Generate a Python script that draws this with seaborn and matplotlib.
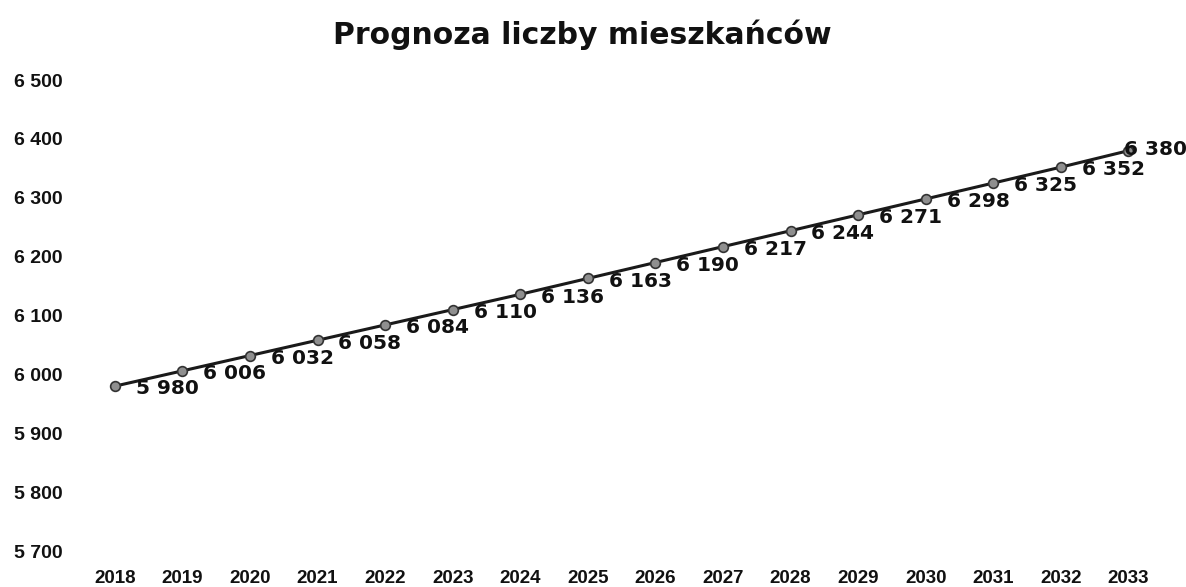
import matplotlib
matplotlib.use("Agg")
import matplotlib.pyplot as plt
import pandas as pd
import seaborn as sns

years = list(range(2018, 2034))
residents = [5980, 6006, 6032, 6058, 6084, 6110, 6136, 6163,
             6190, 6217, 6244, 6271, 6298, 6325, 6352, 6380]
y_ticks = [5700, 5800, 5900, 6000, 6100, 6200, 6300, 6400, 6500]
title = "Prognoza liczby mieszkańców"


def fmt(v: int) -> str:
    return f"{v:,}".replace(",", " ")


sns.set_theme(style="white")
plt.rcParams["font.family"] = ["DejaVu Sans"]

df = pd.DataFrame({"year": years, "residents": residents})

fig = plt.figure(figsize=(11.86, 5.87), dpi=100)
ax = fig.add_axes([0.0683, 0.0613, 0.9117, 0.8024])

sns.lineplot(data=df, x="year", y="residents", ax=ax, color="#1a1a1a",
             linewidth=2.2, marker="o", markersize=7,
             markerfacecolor="#8f8f8f", markeredgecolor="#333333",
             markeredgewidth=1.2)

for i, (x, y) in enumerate(zip(years, residents)):
    last = i == len(years) - 1
    # the last label is pushed left so it fits inside the figure
    ax.annotate(fmt(y), (x, y), xytext=(-3 if last else 15, 1 if last else -2),
                textcoords="offset points", ha="left", va="center",
                fontsize=14.5, fontweight="bold", color="#111111")

ax.set_xlim(years[0] - 0.5, years[-1] + 0.5)
ax.set_ylim(y_ticks[0], y_ticks[-1])
ax.set_xticks(years)
ax.set_xticklabels([str(y) for y in years], fontsize=13.5,
                   fontfamily="Liberation Sans", fontweight="bold",
                   color="#111111")
ax.set_yticks(y_ticks)
ax.set_yticklabels([fmt(v) for v in y_ticks], fontsize=14,
                   fontfamily="Liberation Sans", fontweight="bold",
                   color="#111111")
ax.tick_params(axis="x", length=0, pad=14)
ax.tick_params(axis="y", length=0, pad=13)
ax.set_xlabel("")
ax.set_ylabel("")
for s in ax.spines.values():
    s.set_visible(False)
ax.grid(False)

fig.text(0.491, 0.94, title, ha="center", va="center", fontsize=21.5,
         fontweight="bold", color="#111111")

fig.savefig("out.png", dpi=100, facecolor="white")
